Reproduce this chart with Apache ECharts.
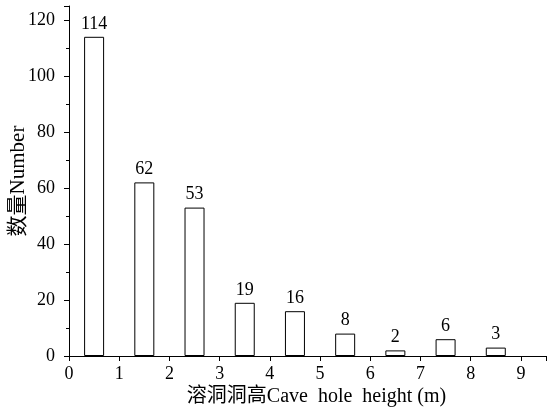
<!DOCTYPE html>
<html><head><meta charset="utf-8">
<script src="https://cdn.jsdelivr.net/npm/echarts@6/dist/echarts.min.js"></script>
<style>html,body{margin:0;padding:0;background:#fff}#c{width:547px;height:411px}</style>
</head><body><div id="c"></div>
<script>
const binCenters = [0.5, 1.5, 2.5, 3.5, 4.5, 5.5, 6.5, 7.5, 8.5];
const counts = [114, 62, 53, 19, 16, 8, 2, 6, 3];
const xTitle = '溶洞洞高Cave  hole  height (m)';
const yTitle = '数量Number';
const font = 'Liberation Serif, Times New Roman, Noto Sans CJK SC, serif';

const chart = echarts.init(document.getElementById('c'));
chart.setOption({
  animation: false,
  backgroundColor: '#fff',
  grid: {left: 69, right: 1, top: 6, bottom: 55, containLabel: false, outerBoundsMode: 'none'},
  xAxis: {
    type: 'value', min: 0, max: 9.5, interval: 1,
    axisLine: {show: true, lineStyle: {color: '#000', width: 1}},
    axisTick: {show: true, length: 5, inside: false, lineStyle: {color: '#000'}},
    axisLabel: {color: '#000', fontSize: 18, fontFamily: font, margin: 9,
      formatter: v => (v <= 9 ? String(v) : '')},
    splitLine: {show: false},
    name: xTitle, nameLocation: 'middle', nameGap: 31, nameMoveOverlap: false,
    nameTextStyle: {color: '#000', fontSize: 20, fontFamily: font, padding: [0, 0, 0, 18]}
  },
  yAxis: {
    type: 'value', min: 0, max: 125, interval: 20,
    axisLine: {show: true, lineStyle: {color: '#000', width: 1}},
    axisTick: {show: true, length: 5, lineStyle: {color: '#000'}},
    minorTick: {show: true, splitNumber: 2, length: 3, lineStyle: {color: '#000'}},
    axisLabel: {color: '#000', fontSize: 18, fontFamily: font, margin: 14,
      formatter: v => (v % 20 === 0 ? String(v) : '')},
    splitLine: {show: false},
    name: yTitle, nameLocation: 'middle', nameGap: 40, nameMoveOverlap: false,
    nameTextStyle: {color: '#000', fontSize: 21, fontFamily: font}
  },
  series: [{
    type: 'bar',
    data: binCenters.map((x, i) => [x, counts[i]]),
    barWidth: 20,
    itemStyle: {color: '#fff', borderColor: '#000', borderWidth: 1},
    label: {show: true, position: 'top', distance: 4, color: '#000', fontSize: 18, fontFamily: font}
  }]
});
</script></body></html>
